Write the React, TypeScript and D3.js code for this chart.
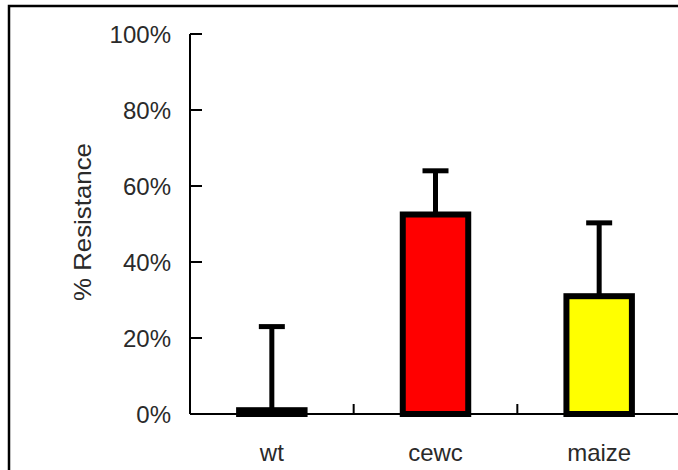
import React from "react";
import * as d3 from "d3";

const categories = ["wt", "cewc", "maize"];
const resistance = [0.01, 0.525, 0.31];
const errorPlus = [0.22, 0.115, 0.193];
const barColors = ["#000000", "#ff0000", "#ffff00"];
const yTicks = [0, 0.2, 0.4, 0.6, 0.8, 1.0];

const W = 678;
const H = 470;
const axisX = 190;
const axisY = 414;
const topY = 34;

export default function App() {
  const y = d3.scaleLinear().domain([0, 1]).range([axisY, topY]);
  const x = d3
    .scaleBand<string>()
    .domain(categories)
    .range([axisX, 681])
    .paddingInner(0.6)
    .paddingOuter(0.3);
  const step = x.step();
  const fmt = d3.format(".0%");
  const font = "'Liberation Sans', Arial, sans-serif";
  const textColor = "#2a2a2a";

  // category boundary ticks on the x axis
  const boundaries = d3.range(categories.length + 1).map((i) => axisX + i * step);

  return (
    <svg
      width={W}
      height={H}
      style={{ position: "absolute", left: 0, top: 0, background: "#fff" }}
      fontFamily={font}
    >
      <rect x={0} y={0} width={W} height={H} fill="#fff" />
      {/* outer chart frame */}
      <rect x={9} y={6} width={700} height={500} fill="none" stroke="#000" strokeWidth={2.5} />

      {/* y axis */}
      <line x1={axisX} x2={axisX} y1={topY} y2={axisY} stroke="#000" strokeWidth={2} />
      {yTicks.map((t) => (
        <g key={t}>
          <line x1={axisX} x2={axisX + 12} y1={y(t)} y2={y(t)} stroke="#000" strokeWidth={2} />
          <text
            x={171}
            y={y(t)}
            dy="0.36em"
            textAnchor="end"
            fontSize={24}
            fill={textColor}
          >
            {fmt(t)}
          </text>
        </g>
      ))}
      <text
        transform={`translate(91,222) rotate(-90)`}
        textAnchor="middle"
        fontSize={24}
        textLength={158}
        lengthAdjust="spacingAndGlyphs"
        fill={textColor}
      >
        % Resistance
      </text>

      {/* bars */}
      {categories.map((c, i) => (
        <rect
          key={c}
          x={x(c)!}
          y={y(resistance[i])}
          width={x.bandwidth()}
          height={axisY - y(resistance[i])}
          fill={barColors[i]}
          stroke="#000"
          strokeWidth={6}
        />
      ))}

      {/* error bars (plus direction) */}
      {categories.map((c, i) => {
        const cx = x(c)! + x.bandwidth() / 2;
        const top = y(resistance[i] + errorPlus[i]);
        return (
          <g key={c} stroke="#000">
            <line x1={cx} x2={cx} y1={y(resistance[i])} y2={top} strokeWidth={5} />
            <line x1={cx - 13} x2={cx + 13} y1={top} y2={top} strokeWidth={5} />
          </g>
        );
      })}

      {/* x axis */}
      <line x1={axisX} x2={W} y1={axisY} y2={axisY} stroke="#000" strokeWidth={2} />
      {boundaries.map((bx, i) => (
        <line key={i} x1={bx} x2={bx} y1={axisY} y2={axisY - 10} stroke="#000" strokeWidth={2} />
      ))}
      {categories.map((c) => (
        <text
          key={c}
          x={x(c)! + x.bandwidth() / 2}
          y={461}
          textAnchor="middle"
          fontSize={24}
          fill={textColor}
        >
          {c}
        </text>
      ))}
    </svg>
  );
}
